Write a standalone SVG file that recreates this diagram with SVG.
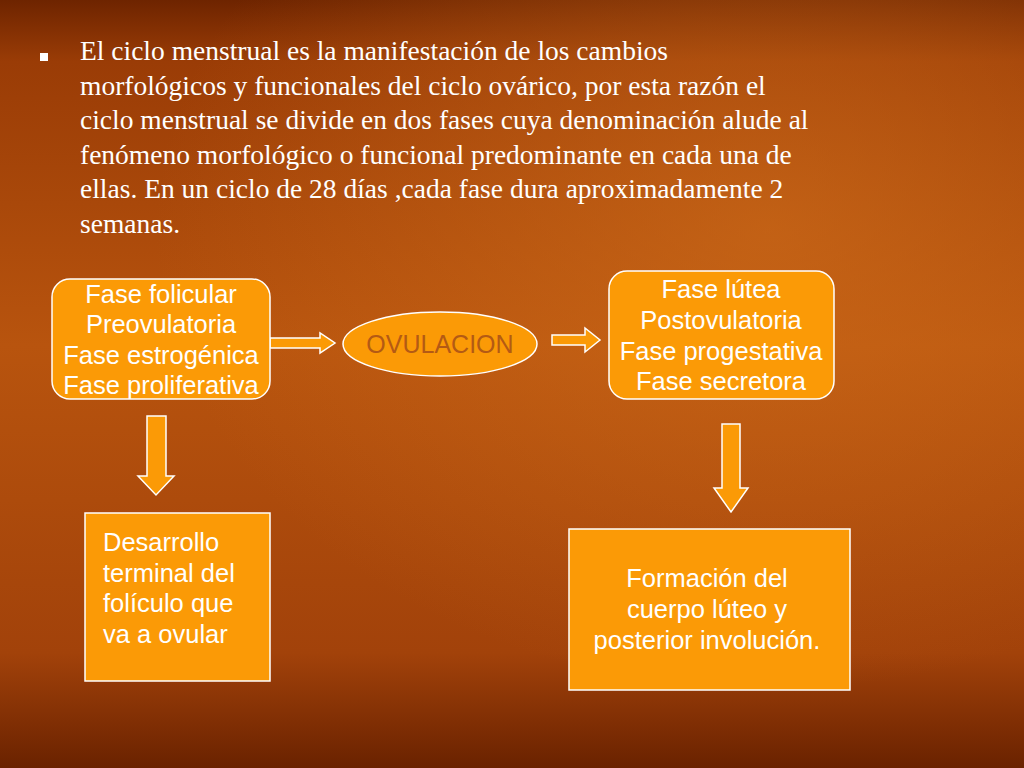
<svg xmlns="http://www.w3.org/2000/svg" width="1024" height="768" viewBox="0 0 1024 768">
<defs>
<linearGradient id="bg" x1="0" y1="0" x2="0" y2="1">
<stop offset="0" stop-color="#6e2400"/>
<stop offset="0.08" stop-color="#9a3c06"/>
<stop offset="0.45" stop-color="#b8540e"/>
<stop offset="0.85" stop-color="#a2420a"/>
<stop offset="1" stop-color="#6a2200"/>
</linearGradient>
<radialGradient id="glow" cx="0.75" cy="0.3" r="0.6">
<stop offset="0" stop-color="#d2701c" stop-opacity="0.6"/>
<stop offset="1" stop-color="#d2701c" stop-opacity="0"/>
</radialGradient>
<style>
.p{font-family:"Liberation Serif",serif;font-size:27.5px;fill:#fff}
.t{font-family:"Liberation Sans",Arial,sans-serif;font-size:25.5px;fill:#fff}
.box{fill:#fb9a06;stroke:#fff;stroke-width:1.5}
.arr{fill:#fb9a06;stroke:#fff;stroke-width:1.5}
</style>
</defs>
<rect width="1024" height="768" fill="url(#bg)"/>
<rect width="1024" height="768" fill="url(#glow)"/>
<g id="paragraph">
<rect x="40" y="53" width="8" height="8" fill="#fff"/>
<text class="p" x="80" y="60">El ciclo menstrual  es la manifestación de los cambios</text>
<text class="p" x="80" y="95">morfológicos y funcionales del ciclo ovárico, por esta razón el</text>
<text class="p" x="80" y="129">ciclo menstrual se divide en dos fases cuya denominación alude al</text>
<text class="p" x="80" y="164">fenómeno morfológico o funcional predominante en cada una de</text>
<text class="p" x="80" y="198">ellas. En un ciclo de 28 días ,cada fase dura aproximadamente  2</text>
<text class="p" x="80" y="233">semanas.</text>
</g>
<g id="connectors">
<path class="arr" d="M270,338 H320 V333 L335,343 L320,353 V348 H270 Z"/>
<path class="arr" d="M552,335 H585 V328 L600,340 L585,352 V345 H552 Z"/>
<path class="arr" d="M147,416 H166 V476 H174 L156,495 L138,476 H147 Z"/>
<path class="arr" d="M722,424 H740 V488 H748 L731,512 L714,488 H722 Z"/>
</g>
<g id="folicular">
<rect class="box" x="52" y="279" width="218" height="120" rx="18"/>
<g class="t" text-anchor="middle">
<text x="161" y="303">Fase folicular</text>
<text x="161" y="333">Preovulatoria</text>
<text x="161" y="364">Fase estrogénica</text>
<text x="161" y="394">Fase proliferativa</text>
</g>
</g>
<g id="ovulacion">
<ellipse class="box" cx="440" cy="344" rx="97" ry="32"/>
<text x="440" y="353" text-anchor="middle" font-family="Liberation Sans,Arial,sans-serif" font-size="25" fill="#b45a14">OVULACION</text>
</g>
<g id="lutea">
<rect class="box" x="609" y="271" width="225" height="128" rx="18"/>
<g class="t" text-anchor="middle">
<text x="721" y="298">Fase lútea</text>
<text x="721" y="329">Postovulatoria</text>
<text x="721" y="360">Fase progestativa</text>
<text x="721" y="390">Fase secretora</text>
</g>
</g>
<g id="desarrollo">
<rect class="box" x="85" y="513" width="185" height="168"/>
<g class="t">
<text x="103" y="551">Desarrollo</text>
<text x="103" y="582">terminal del</text>
<text x="103" y="612">folículo que</text>
<text x="103" y="643">va a ovular</text>
</g>
</g>
<g id="formacion">
<rect class="box" x="569" y="529" width="281" height="161"/>
<g class="t" text-anchor="middle">
<text x="707" y="587">Formación del</text>
<text x="707" y="618">cuerpo lúteo y</text>
<text x="707" y="649">posterior involución.</text>
</g>
</g>
</svg>
